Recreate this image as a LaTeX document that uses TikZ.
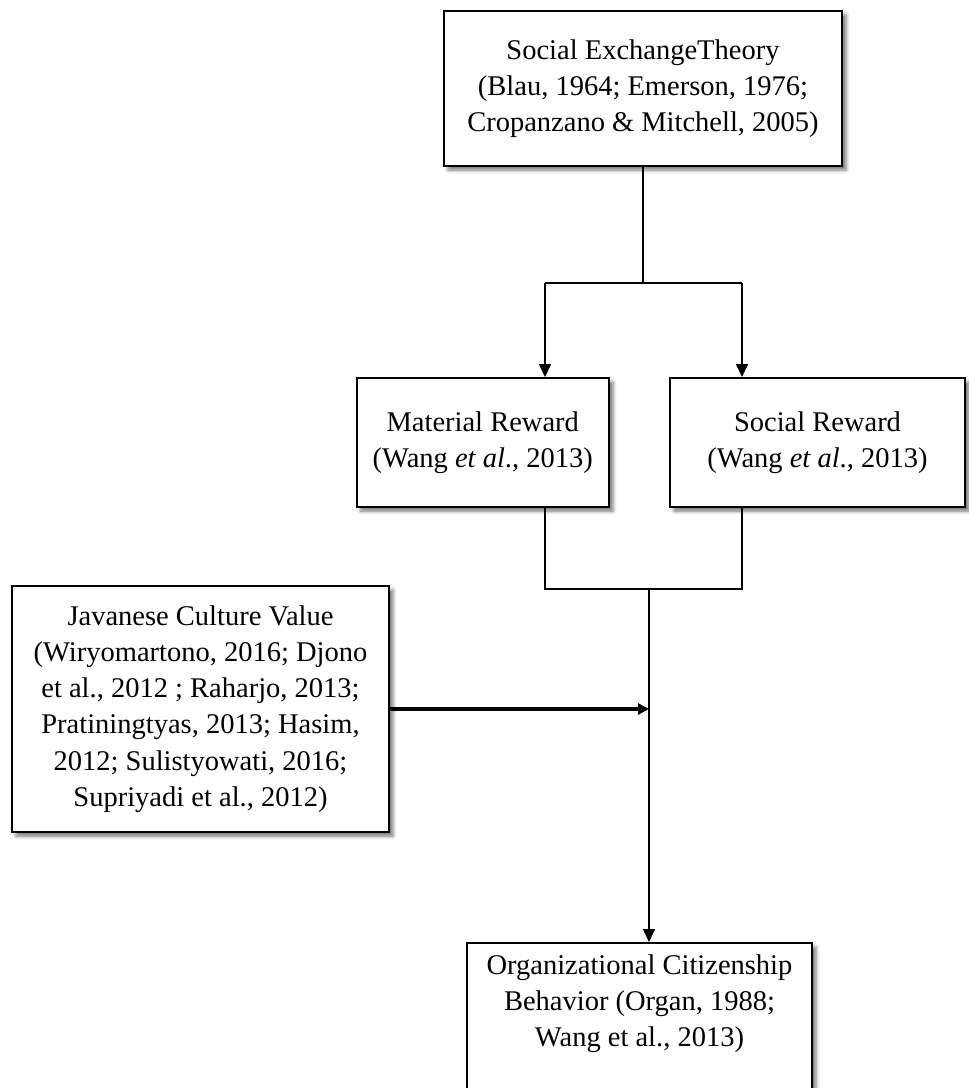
\documentclass[tikz,border=0pt]{standalone}
\usepackage{fontspec}
\setmainfont{Liberation Serif}
\usetikzlibrary{arrows.meta,shadows.blur}
\begin{document}
\begin{tikzpicture}[x=0.5pt,y=-0.5pt,
  txt/.style={font=\fontsize{14.25}{18.15}\selectfont, align=center},
  box/.style={txt, rectangle, draw=black, line width=1pt, fill=white, inner sep=0pt,
    blur shadow={shadow xshift=2pt, shadow yshift=-2pt,
                 shadow blur radius=1.8pt, shadow opacity=55}},
  lbl/.style={txt, inner sep=0pt},
  link/.style={line width=0.8pt},
  arr/.style={link, -{Triangle[length=6.5pt,width=6pt]}},
  heavyarr/.style={line width=1.7pt, -{Triangle[length=5.5pt,width=5.5pt]}}
]
\useasboundingbox (0,0) rectangle (969,1088);
\clip (0,0) rectangle (969,1088);

% boxes
\node[box, minimum width=199pt, minimum height=77.5pt] (top) at (643,88.5)
  {Social ExchangeTheory\\(Blau, 1964; Emerson, 1976;\\Cropanzano \& Mitchell, 2005)};
\node[box, minimum width=126.25pt, minimum height=64.5pt] (mat) at (482.75,442.5)
  {Material Reward\\(Wang \textit{et al}., 2013)};
\node[box, minimum width=147.5pt, minimum height=64.5pt] (soc) at (817.5,442.5)
  {Social Reward\\(Wang \textit{et al}., 2013)};
\node[box, minimum width=188.5pt, minimum height=123pt] (jav) at (200.5,709)
  {Javanese Culture Value\\(Wiryomartono, 2016; Djono\\et al., 2012 ; Raharjo, 2013;\\Pratiningtyas, 2013; Hasim,\\2012; Sulistyowati, 2016;\\Supriyadi et al., 2012)};
\node[box, minimum width=172.5pt, minimum height=100pt, anchor=north] (ocb) at (639.5,942) {};
\node[lbl] (ocbtext) at (639.5,1003.5)
  {Organizational Citizenship\\Behavior (Organ, 1988;\\Wang et al., 2013)};

% junction points
\coordinate (jl) at (545,283);
\coordinate (jr) at (742,283);
\coordinate (bl) at (545,589);
\coordinate (br) at (742,589);
\coordinate (bm) at (649,589);

% theory splits into the two rewards
\draw[link] (top.south) -- (top.south |- jl);
\draw[link] (jl) -- (jr);
\draw[arr] (jl) -- (jl |- mat.north);
\draw[arr] (jr) -- (jr |- soc.north);

% rewards join and lead to OCB
\draw[link] (bl |- mat.south) -- (bl) -- (br) -- (br |- soc.south);
\draw[arr] (bm) -- (bm |- ocb.north);

% moderating culture value
\draw[heavyarr] (jav.east) -- (bm |- jav.east);
\end{tikzpicture}
\end{document}
